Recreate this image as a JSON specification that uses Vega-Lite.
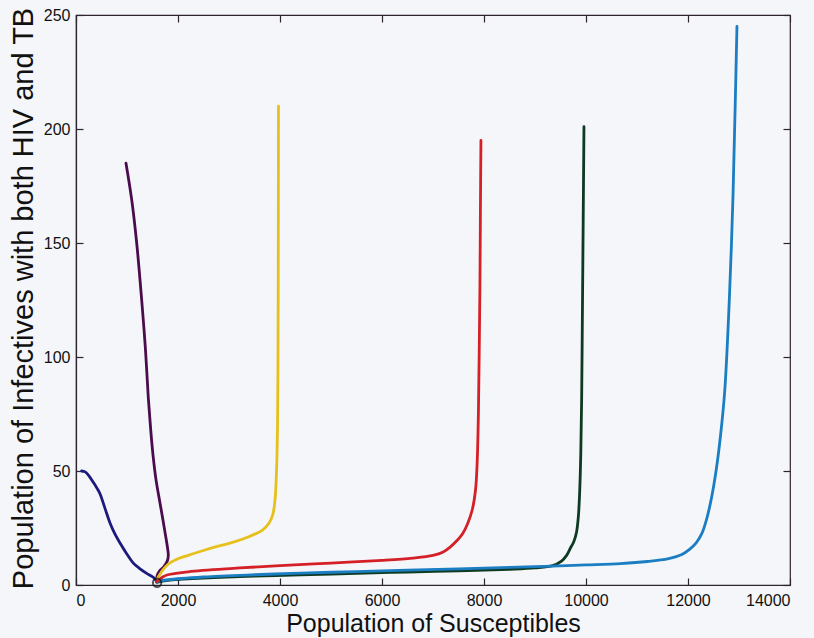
{
  "$schema": "https://vega.github.io/schema/vega-lite/v6.json",
  "autosize": "none",
  "width": 714,
  "height": 570,
  "padding": {"left": 76, "top": 15, "right": 24, "bottom": 53},
  "background": "#f5f6fa",
  "config": {
    "font": "Liberation Sans",
    "view": {"stroke": "#2e2430", "strokeWidth": 1.2, "fill": "#f5f6fa"},
    "axis": {
      "grid": false,
      "domainColor": "#2e2430",
      "domainWidth": 1.2,
      "tickColor": "#2e2430",
      "tickWidth": 1.2,
      "tickSize": -7,
      "labelFont": "Liberation Sans",
      "labelFontSize": 16,
      "labelColor": "#111111",
      "titleFont": "Liberation Sans",
      "titleFontWeight": "normal",
      "titleColor": "#111111"
    }
  },
  "datasets": {
    "trajectories": [
      {"run": "S0 = 100", "i": 0, "s": 110, "inf": 50},
      {"run": "S0 = 100", "i": 1, "s": 180, "inf": 49.6},
      {"run": "S0 = 100", "i": 2, "s": 250, "inf": 48},
      {"run": "S0 = 100", "i": 3, "s": 340, "inf": 45},
      {"run": "S0 = 100", "i": 4, "s": 410, "inf": 42.5},
      {"run": "S0 = 100", "i": 5, "s": 470, "inf": 40},
      {"run": "S0 = 100", "i": 6, "s": 570, "inf": 33.5},
      {"run": "S0 = 100", "i": 7, "s": 667, "inf": 27.2},
      {"run": "S0 = 100", "i": 8, "s": 760, "inf": 22.5},
      {"run": "S0 = 100", "i": 9, "s": 863, "inf": 18.4},
      {"run": "S0 = 100", "i": 10, "s": 1000, "inf": 13.5},
      {"run": "S0 = 100", "i": 11, "s": 1124, "inf": 9.6},
      {"run": "S0 = 100", "i": 12, "s": 1250, "inf": 7.2},
      {"run": "S0 = 100", "i": 13, "s": 1386, "inf": 5.1},
      {"run": "S0 = 100", "i": 14, "s": 1516, "inf": 3.4},
      {"run": "S0 = 100", "i": 15, "s": 1580, "inf": 1.5},

      {"run": "S0 = 1000", "i": 0, "s": 980, "inf": 185},
      {"run": "S0 = 1000", "i": 1, "s": 1092, "inf": 169},
      {"run": "S0 = 1000", "i": 2, "s": 1190, "inf": 150},
      {"run": "S0 = 1000", "i": 3, "s": 1288, "inf": 125},
      {"run": "S0 = 1000", "i": 4, "s": 1360, "inf": 104},
      {"run": "S0 = 1000", "i": 5, "s": 1418, "inf": 82},
      {"run": "S0 = 1000", "i": 6, "s": 1465, "inf": 68},
      {"run": "S0 = 1000", "i": 7, "s": 1510, "inf": 57},
      {"run": "S0 = 1000", "i": 8, "s": 1570, "inf": 46},
      {"run": "S0 = 1000", "i": 9, "s": 1647, "inf": 36},
      {"run": "S0 = 1000", "i": 10, "s": 1705, "inf": 28.5},
      {"run": "S0 = 1000", "i": 11, "s": 1750, "inf": 22.5},
      {"run": "S0 = 1000", "i": 12, "s": 1790, "inf": 17},
      {"run": "S0 = 1000", "i": 13, "s": 1810, "inf": 13},
      {"run": "S0 = 1000", "i": 14, "s": 1790, "inf": 10.5},
      {"run": "S0 = 1000", "i": 15, "s": 1720, "inf": 8},
      {"run": "S0 = 1000", "i": 16, "s": 1640, "inf": 6.2},
      {"run": "S0 = 1000", "i": 17, "s": 1590, "inf": 4},
      {"run": "S0 = 1000", "i": 18, "s": 1578, "inf": 1.5},

      {"run": "S0 = 10000", "i": 0, "s": 1580, "inf": 1.2},
      {"run": "S0 = 10000", "i": 1, "s": 1800, "inf": 2},
      {"run": "S0 = 10000", "i": 2, "s": 2500, "inf": 3},
      {"run": "S0 = 10000", "i": 3, "s": 3500, "inf": 3.9},
      {"run": "S0 = 10000", "i": 4, "s": 4400, "inf": 4.4},
      {"run": "S0 = 10000", "i": 5, "s": 5500, "inf": 5.1},
      {"run": "S0 = 10000", "i": 6, "s": 6500, "inf": 5.7},
      {"run": "S0 = 10000", "i": 7, "s": 7500, "inf": 6.2},
      {"run": "S0 = 10000", "i": 8, "s": 8500, "inf": 6.9},
      {"run": "S0 = 10000", "i": 9, "s": 9000, "inf": 7.5},
      {"run": "S0 = 10000", "i": 10, "s": 9346, "inf": 8.5},
      {"run": "S0 = 10000", "i": 11, "s": 9520, "inf": 10.5},
      {"run": "S0 = 10000", "i": 12, "s": 9620, "inf": 13},
      {"run": "S0 = 10000", "i": 13, "s": 9690, "inf": 16},
      {"run": "S0 = 10000", "i": 14, "s": 9760, "inf": 19},
      {"run": "S0 = 10000", "i": 15, "s": 9813, "inf": 23},
      {"run": "S0 = 10000", "i": 16, "s": 9850, "inf": 30},
      {"run": "S0 = 10000", "i": 17, "s": 9878, "inf": 42},
      {"run": "S0 = 10000", "i": 18, "s": 9898, "inf": 58},
      {"run": "S0 = 10000", "i": 19, "s": 9915, "inf": 82},
      {"run": "S0 = 10000", "i": 20, "s": 9930, "inf": 120},
      {"run": "S0 = 10000", "i": 21, "s": 9945, "inf": 160},
      {"run": "S0 = 10000", "i": 22, "s": 9960, "inf": 201},

      {"run": "S0 = 13000", "i": 0, "s": 1580, "inf": 1.5},
      {"run": "S0 = 13000", "i": 1, "s": 1800, "inf": 2.3},
      {"run": "S0 = 13000", "i": 2, "s": 2500, "inf": 3.5},
      {"run": "S0 = 13000", "i": 3, "s": 3500, "inf": 4.5},
      {"run": "S0 = 13000", "i": 4, "s": 4400, "inf": 5.2},
      {"run": "S0 = 13000", "i": 5, "s": 5500, "inf": 5.9},
      {"run": "S0 = 13000", "i": 6, "s": 6500, "inf": 6.5},
      {"run": "S0 = 13000", "i": 7, "s": 7500, "inf": 7.1},
      {"run": "S0 = 13000", "i": 8, "s": 8500, "inf": 7.7},
      {"run": "S0 = 13000", "i": 9, "s": 9346, "inf": 8.3},
      {"run": "S0 = 13000", "i": 10, "s": 10000, "inf": 8.8},
      {"run": "S0 = 13000", "i": 11, "s": 10680, "inf": 9.4},
      {"run": "S0 = 13000", "i": 12, "s": 11200, "inf": 10.3},
      {"run": "S0 = 13000", "i": 13, "s": 11620, "inf": 11.6},
      {"run": "S0 = 13000", "i": 14, "s": 11880, "inf": 13.4},
      {"run": "S0 = 13000", "i": 15, "s": 12030, "inf": 15.6},
      {"run": "S0 = 13000", "i": 16, "s": 12160, "inf": 18.5},
      {"run": "S0 = 13000", "i": 17, "s": 12270, "inf": 22.5},
      {"run": "S0 = 13000", "i": 18, "s": 12360, "inf": 28.5},
      {"run": "S0 = 13000", "i": 19, "s": 12450, "inf": 37},
      {"run": "S0 = 13000", "i": 20, "s": 12550, "inf": 50},
      {"run": "S0 = 13000", "i": 21, "s": 12640, "inf": 66},
      {"run": "S0 = 13000", "i": 22, "s": 12720, "inf": 85},
      {"run": "S0 = 13000", "i": 23, "s": 12810, "inf": 125},
      {"run": "S0 = 13000", "i": 24, "s": 12880, "inf": 169},
      {"run": "S0 = 13000", "i": 25, "s": 12925, "inf": 210},
      {"run": "S0 = 13000", "i": 26, "s": 12960, "inf": 245},

      {"run": "S0 = 8000", "i": 0, "s": 1580, "inf": 1.5},
      {"run": "S0 = 8000", "i": 1, "s": 1700, "inf": 3.5},
      {"run": "S0 = 8000", "i": 2, "s": 1800, "inf": 4.5},
      {"run": "S0 = 8000", "i": 3, "s": 2200, "inf": 5.8},
      {"run": "S0 = 8000", "i": 4, "s": 3085, "inf": 7.3},
      {"run": "S0 = 8000", "i": 5, "s": 4000, "inf": 8.5},
      {"run": "S0 = 8000", "i": 6, "s": 5000, "inf": 9.6},
      {"run": "S0 = 8000", "i": 7, "s": 6000, "inf": 10.8},
      {"run": "S0 = 8000", "i": 8, "s": 6600, "inf": 11.8},
      {"run": "S0 = 8000", "i": 9, "s": 7000, "inf": 13},
      {"run": "S0 = 8000", "i": 10, "s": 7200, "inf": 14.5},
      {"run": "S0 = 8000", "i": 11, "s": 7330, "inf": 16.5},
      {"run": "S0 = 8000", "i": 12, "s": 7470, "inf": 19.5},
      {"run": "S0 = 8000", "i": 13, "s": 7580, "inf": 22.5},
      {"run": "S0 = 8000", "i": 14, "s": 7680, "inf": 27},
      {"run": "S0 = 8000", "i": 15, "s": 7770, "inf": 33},
      {"run": "S0 = 8000", "i": 16, "s": 7835, "inf": 42},
      {"run": "S0 = 8000", "i": 17, "s": 7868, "inf": 55},
      {"run": "S0 = 8000", "i": 18, "s": 7890, "inf": 75},
      {"run": "S0 = 8000", "i": 19, "s": 7905, "inf": 100},
      {"run": "S0 = 8000", "i": 20, "s": 7920, "inf": 130},
      {"run": "S0 = 8000", "i": 21, "s": 7930, "inf": 165},
      {"run": "S0 = 8000", "i": 22, "s": 7940, "inf": 195},

      {"run": "S0 = 4000", "i": 0, "s": 1600, "inf": 3},
      {"run": "S0 = 4000", "i": 1, "s": 1700, "inf": 6.5},
      {"run": "S0 = 4000", "i": 2, "s": 1800, "inf": 9},
      {"run": "S0 = 4000", "i": 3, "s": 2000, "inf": 11.5},
      {"run": "S0 = 4000", "i": 4, "s": 2200, "inf": 13},
      {"run": "S0 = 4000", "i": 5, "s": 2450, "inf": 14.8},
      {"run": "S0 = 4000", "i": 6, "s": 2750, "inf": 16.8},
      {"run": "S0 = 4000", "i": 7, "s": 3085, "inf": 18.8},
      {"run": "S0 = 4000", "i": 8, "s": 3400, "inf": 21.3},
      {"run": "S0 = 4000", "i": 9, "s": 3650, "inf": 24},
      {"run": "S0 = 4000", "i": 10, "s": 3780, "inf": 27},
      {"run": "S0 = 4000", "i": 11, "s": 3860, "inf": 31},
      {"run": "S0 = 4000", "i": 12, "s": 3905, "inf": 38},
      {"run": "S0 = 4000", "i": 13, "s": 3925, "inf": 46},
      {"run": "S0 = 4000", "i": 14, "s": 3940, "inf": 56},
      {"run": "S0 = 4000", "i": 15, "s": 3952, "inf": 70},
      {"run": "S0 = 4000", "i": 16, "s": 3960, "inf": 95},
      {"run": "S0 = 4000", "i": 17, "s": 3965, "inf": 130},
      {"run": "S0 = 4000", "i": 18, "s": 3968, "inf": 170},
      {"run": "S0 = 4000", "i": 19, "s": 3970, "inf": 210}
    ],
    "equilibrium": [
      {"s": 1590, "inf": 1}
    ]
  },
  "layer": [
    {
      "data": {"name": "trajectories"},
      "mark": {"type": "line", "strokeWidth": 2.8, "interpolate": "catmull-rom", "strokeJoin": "round", "strokeCap": "round", "clip": true},
      "encoding": {
        "x": {
          "field": "s", "type": "quantitative",
          "scale": {"domain": [0, 14000], "nice": false, "zero": false},
          "axis": {
            "values": [0, 2000, 4000, 6000, 8000, 10000, 12000, 14000],
            "format": "d",
            "labelPadding": 14,
            "title": "Population of Susceptibles",
            "titleFontSize": 25,
            "titleBaseline": "alphabetic",
            "titleY": 46
          }
        },
        "y": {
          "field": "inf", "type": "quantitative",
          "scale": {"domain": [0, 250], "nice": false, "zero": false},
          "axis": {
            "values": [0, 50, 100, 150, 200, 250],
            "labelPadding": 13,
            "title": "Population of Infectives with both HIV and TB",
            "titleFontSize": 29,
            "titleBaseline": "alphabetic",
            "titleX": -44,
            "titleY": 283
          }
        },
        "color": {
          "field": "run", "type": "nominal", "legend": null,
          "scale": {
            "domain": ["S0 = 100", "S0 = 1000", "S0 = 10000", "S0 = 13000", "S0 = 8000", "S0 = 4000"],
            "range": ["#1c1a7c", "#4a0c4c", "#0e3a22", "#1b7ec2", "#d52027", "#e6c11c"]
          }
        },
        "order": {"field": "i", "type": "quantitative"}
      }
    },
    {
      "data": {"name": "equilibrium"},
      "mark": {"type": "point", "shape": "circle", "filled": false, "size": 70, "stroke": "#111111", "strokeWidth": 2},
      "encoding": {
        "x": {
          "field": "s", "type": "quantitative",
          "scale": {"domain": [0, 14000], "nice": false, "zero": false},
          "axis": {"orient": "top", "values": [0, 2000, 4000, 6000, 8000, 10000, 12000, 14000], "labels": false, "domain": false, "title": null}
        },
        "y": {
          "field": "inf", "type": "quantitative",
          "scale": {"domain": [0, 250], "nice": false, "zero": false},
          "axis": {"orient": "right", "values": [0, 50, 100, 150, 200, 250], "labels": false, "domain": false, "title": null}
        }
      }
    }
  ],
  "resolve": {"axis": {"x": "independent", "y": "independent"}}
}
